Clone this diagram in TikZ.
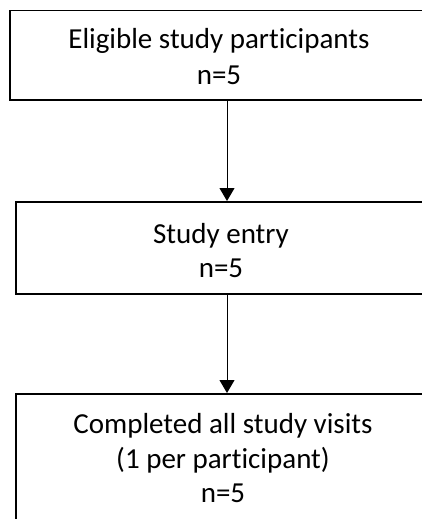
\documentclass[tikz,border=0pt]{standalone}
\usepackage{fontspec}
\setmainfont{Carlito}[Ligatures=NoCommon]
\usetikzlibrary{arrows.meta}

\begin{document}
\begin{tikzpicture}[x=1pt,y=-1pt,
  box/.style={draw,line width=1.5pt,anchor=north,inner sep=0pt},
  txt/.style={anchor=north,align=center,inner sep=0pt,font=\fontsize{29}{34.5}\selectfont},
  flow/.style={line width=1pt,-{Triangle[width=15pt,length=13pt]}}]
\useasboundingbox (0,0) rectangle (422,519);
\begin{scope}
\clip (0,0) rectangle (422,519);
\node[box,minimum width=420pt,minimum height=89pt] (b1) at (220,10) {};
\node[txt,font=\fontsize{29}{36.5}\selectfont] (t1) at (219,22.5) {\strut Eligible study participants\\n=5};
\node[box,minimum width=410pt,minimum height=92pt] (b2) at (221,201) {};
\node[txt] (t2) at (221,218.8) {\strut Study entry\\n=5};
\node[box,minimum width=410pt,minimum height=150pt] (b3) at (221,393) {};
\node[txt] (t3) at (223,409.2) {\strut Completed all study visits\\(1 per participant)\\n=5};
\draw[flow] ([xshift=7pt]b1.south) -- ([xshift=6pt]b2.north);
\draw[flow] ([xshift=6pt]b2.south) -- ([xshift=6pt]b3.north);
\end{scope}
\end{tikzpicture}
\end{document}
